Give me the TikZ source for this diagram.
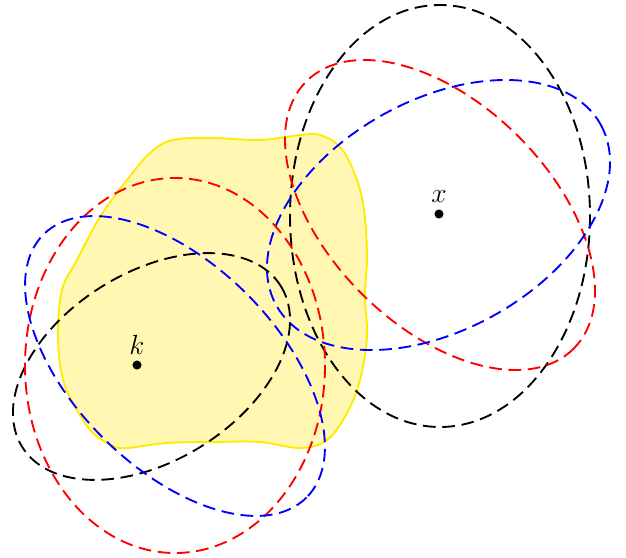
\documentclass[tikz,border=0pt]{standalone}
\definecolor{blobfill}{RGB}{255,247,178}
\definecolor{blobline}{RGB}{255,234,0}
\begin{document}
\begin{tikzpicture}[x=0.75pt,y=-0.75pt,
  curve/.style={line width=1.4pt,dash pattern=on 9.5pt off 5pt},
  dot/.style={circle,fill=black,inner sep=0pt,minimum size=6.8pt},
  lbl/.style={anchor=base,inner sep=0pt,font=\fontsize{22}{26}\selectfont}]
\useasboundingbox (0,0) rectangle (626,558);
% yellow region
\draw[blobline,fill=blobfill,line width=1.4pt] plot[smooth cycle,tension=0.6] coordinates {
 (173,140) (213,138) (260,140) (300,135) (320,135) (340,147) (353,170) (363,203)
 (367,253) (365,297) (367,337) (360,380) (347,413) (327,440) (300,448) (260,442)
 (213,442) (167,443) (127,448) (113,446) (93,433) (77,410) (63,380) (58,337)
 (62,290) (77,260) (100,217) (127,180) (150,153)};
% curves around x
\draw[curve,black] (440,216) ellipse [x radius=150,y radius=211];
\draw[curve,red,rotate around={-45:(440,215)}] (440,215) ellipse [x radius=189,y radius=111];
\draw[curve,blue,rotate around={29.2:(438.5,215)}] (438.5,215) ellipse [x radius=185.7,y radius=114.7];
% curves around k
\draw[curve,black,rotate around={31.9:(151.5,366.5)}] (151.5,366.5) ellipse [x radius=152.3,y radius=94.1];
\draw[curve,red] (175,365.5) ellipse [x radius=150,y radius=187.5];
\draw[curve,blue,rotate around={-45:(175,366)}] (175,366) ellipse [x radius=186,y radius=101.7];
% points
\node[dot] (k) at (137,365) {};
\node[lbl] (klabel) at (137,354) {$k$};
\node[dot] (x) at (439,214) {};
\node[lbl] (xlabel) at (439,202) {$x$};
\end{tikzpicture}
\end{document}
